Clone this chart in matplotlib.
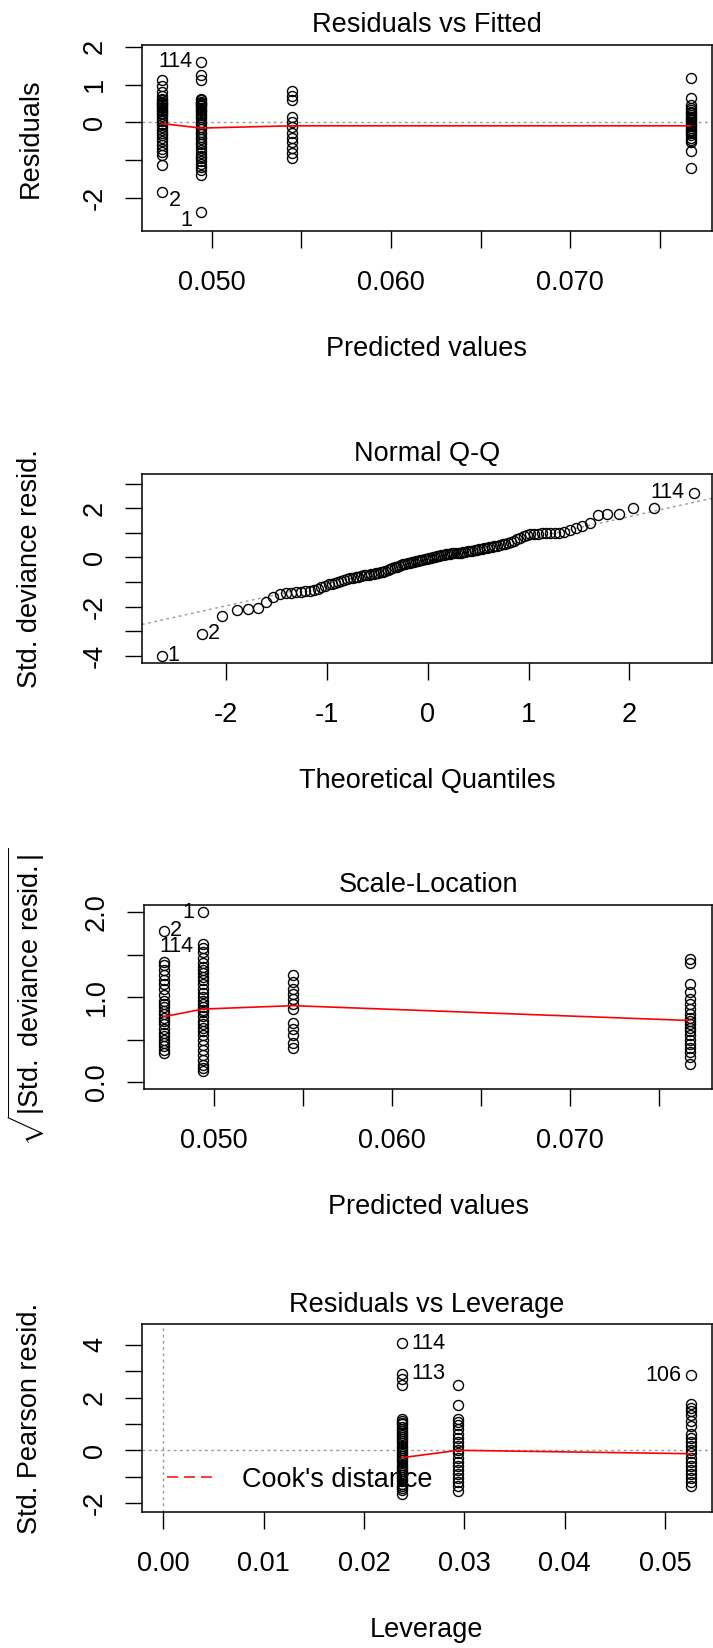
#!/usr/bin/python
# -*- coding: utf-8 -*-

"""Four diagnostic panels of a fitted model, stacked one under another."""

import matplotlib
matplotlib.use('Agg')
import matplotlib.pyplot as plt
import numpy as np
from statistics import NormalDist

plt.rcParams['font.family'] = ['Liberation Sans', 'DejaVu Sans']
plt.rcParams['mathtext.fontset'] = 'custom'
plt.rcParams['mathtext.rm'] = 'Liberation Sans'
plt.rcParams['mathtext.it'] = 'Liberation Sans:italic'

######################################################################
# data

# predicted values of the four groups (panels 1 and 3)
fit_groups = [0.0472, 0.0494, 0.05446, 0.07672]

# residuals vs fitted
res_1 = [1.11, 0.95, 0.80, 0.71, 0.62, 0.58, 0.55, 0.52, 0.48, 0.45, 0.41, 0.37,
         0.33, 0.29, 0.25, 0.21, 0.18, 0.10, 0.03, -0.05, -0.12, -0.20, -0.27,
         -0.33, -0.42, -0.50, -0.60, -0.70, -0.78, -0.87, -1.13, -1.84]
res_2 = [1.60, 1.26, 1.13, 0.62, 0.58, 0.55, 0.52, 0.49, 0.45, 0.42, 0.38, 0.34,
         0.30, 0.25, 0.20, 0.14, 0.08, 0.02, -0.05, -0.12, -0.18, -0.25, -0.32,
         -0.38, -0.45, -0.52, -0.58, -0.65, -0.72, -0.80, -0.88, -0.95, -1.02,
         -1.10, -1.18, -1.26, -1.38, -2.37]
res_3 = [0.84, 0.71, 0.58, 0.13, 0.00, -0.13, -0.27, -0.40, -0.53, -0.67, -0.80, -0.93]
res_4 = [1.17, 0.64, 0.45, 0.38, 0.33, 0.28, 0.24, 0.19, 0.14, 0.10, 0.05, 0.01,
         -0.04, -0.09, -0.14, -0.19, -0.24, -0.29, -0.34, -0.40, -0.46, -0.53,
         -0.76, -1.20]
smooth_1 = [-0.03, -0.15, -0.09, -0.09]

# normal Q-Q, sorted std. deviance residuals
qq_vals = [-4.00, -3.10, -2.36, -2.15, -2.10, -2.05, -1.80, -1.60, -1.50, -1.46,
           -1.44, -1.42, -1.40, -1.38, -1.36, -1.32, -1.28, -1.22, -1.16, -1.10,
           -1.06, -1.02, -0.98, -0.95, -0.92, -0.88, -0.85, -0.82, -0.80, -0.78,
           -0.76, -0.73, -0.71, -0.70, -0.68, -0.66, -0.64, -0.62, -0.60, -0.58,
           -0.55, -0.50, -0.46, -0.43, -0.40, -0.37, -0.34, -0.31, -0.28, -0.26,
           -0.24, -0.22, -0.20, -0.18, -0.16, -0.14, -0.12, -0.10, -0.08, -0.06,
           -0.04, -0.02, 0.00, 0.02, 0.04, 0.06, 0.08, 0.10, 0.12, 0.14,
           0.15, 0.16, 0.17, 0.18, 0.19, 0.20, 0.22, 0.24, 0.26, 0.27,
           0.28, 0.30, 0.31, 0.33, 0.35, 0.37, 0.39, 0.41, 0.43, 0.45,
           0.48, 0.50, 0.53, 0.56, 0.58, 0.62, 0.68, 0.74, 0.80, 0.86,
           0.91, 0.94, 0.96, 0.97, 0.98, 0.98, 0.99, 0.99, 1.00, 1.05,
           1.12, 1.20, 1.28, 1.38, 1.74, 1.76, 1.78, 1.99, 2.00, 2.62]

# scale-location, sqrt(|std. deviance resid.|)
sl_1 = [1.78, 1.42, 1.38, 1.32, 1.26, 1.20, 1.15, 1.10, 1.02, 0.96, 0.92, 0.88,
        0.84, 0.80, 0.76, 0.72, 0.68, 0.62, 0.58, 0.54, 0.50, 0.46, 0.42, 0.38, 0.34]
sl_2 = [2.00, 1.63, 1.58, 1.53, 1.46, 1.40, 1.36, 1.32, 1.28, 1.24, 1.20, 1.15,
        1.10, 1.05, 1.00, 0.95, 0.92, 0.88, 0.85, 0.82, 0.78, 0.72, 0.68, 0.64,
        0.60, 0.56, 0.50, 0.44, 0.38, 0.32, 0.26, 0.20, 0.16, 0.13]
sl_3 = [1.26, 1.18, 1.10, 1.04, 0.98, 0.92, 0.86, 0.70, 0.62, 0.55, 0.46, 0.40]
sl_4 = [1.45, 1.40, 1.16, 1.06, 0.98, 0.92, 0.86, 0.80, 0.76, 0.72, 0.68, 0.64,
        0.60, 0.55, 0.50, 0.45, 0.40, 0.35, 0.29, 0.215]
smooth_3 = [0.77, 0.86, 0.90, 0.725]

# residuals vs leverage
lev_groups = [0.0238, 0.0294, 0.0526]
pr_1 = [4.06, 2.90, 2.71, 2.46, 1.19, 1.12, 1.05, 0.98, 0.90, 0.82, 0.74, 0.66,
        0.58, 0.50, 0.42, 0.34, 0.26, 0.18, 0.10, 0.02, -0.06, -0.14, -0.22,
        -0.30, -0.38, -0.46, -0.54, -0.62, -0.70, -0.78, -0.86, -0.94, -1.02,
        -1.10, -1.18, -1.26, -1.34, -1.42, -1.50, -1.66]
pr_2 = [2.48, 1.70, 1.19, 1.08, 0.95, 0.80, 0.62, 0.46, 0.30, 0.15, 0.02, -0.12,
        -0.28, -0.44, -0.60, -0.75, -0.90, -1.05, -1.20, -1.35, -1.55]
pr_3 = [2.84, 1.76, 1.62, 1.48, 1.34, 1.12, 0.92, 0.62, 0.46, 0.30, 0.16, 0.02,
        -0.12, -0.28, -0.44, -0.60, -0.75, -0.90, -1.05, -1.20, -1.35]
smooth_4 = [-0.28, 0.0, -0.13]

######################################################################

W, H = 713, 1648
FS = 19.5
ID_FS = 15.5
fig = plt.figure(figsize=(W / 100, H / 100), dpi=100)

point_kw = dict(ls='none', marker='o', mfc='none', mec='black', ms=7.2, mew=1.0, zorder=2)
red_kw = dict(color='red', lw=1.2, zorder=3)
ref_kw = dict(color='#9a9a9a', lw=1.0, ls=(0, (2, 2.5)), zorder=1)


def make_axes(left, top, right, bottom):
    return fig.add_axes([left / W, 1 - bottom / H, (right - left) / W, (bottom - top) / H])


def style_axes(ax):
    for s in ax.spines.values():
        s.set_linewidth(1.1)
    ax.tick_params(axis='both', length=12.2, width=1.0, labelsize=FS)
    ax.tick_params(axis='x', pad=16)
    ax.tick_params(axis='y', pad=12.3, labelrotation=90)
    for lbl in ax.get_yticklabels():
        lbl.set_va('center')


def put_texts(box, title, xlabel, ylabel, ylabel_math=False):
    left, top, right, bottom = box
    cx = (left + right) / 2
    cy = (top + bottom) / 2
    fig.text(cx / W, 1 - (top - 12.5) / H, title, ha='center', va='baseline', fontsize=FS)
    fig.text(cx / W, 1 - (bottom + 125) / H, xlabel, ha='center', va='baseline', fontsize=FS)
    if ylabel_math:
        fig.text(26 / W, 1 - cy / H, ylabel, ha='center', va='center', rotation=90, fontsize=FS)
    else:
        fig.text(37.5 / W, 1 - cy / H, ylabel, ha='center', va='baseline', rotation=90,
                 rotation_mode='anchor', fontsize=FS)


def id_label(ax, x, y, text, dx, dy, ha):
    ax.annotate(text, (x, y), xytext=(dx, dy), textcoords='offset pixels',
                ha=ha, va='center', fontsize=ID_FS, annotation_clip=False)


fit_ticks = [0.050, 0.055, 0.060, 0.065, 0.070, 0.075]
fit_labels = ['0.050', '', '0.060', '', '0.070', '']

# ---- panel 1: Residuals vs Fitted
box1 = (142, 45, 712, 231)
ax1 = make_axes(*box1)
ax1.axhline(0, **ref_kw)
for x, vals in zip(fit_groups, [res_1, res_2, res_3, res_4]):
    ax1.plot([x] * len(vals), vals, **point_kw)
ax1.plot(fit_groups, smooth_1, **red_kw)
ax1.set_xlim(0.046105, 0.077913)
ax1.set_ylim(-2.87, 2.045)
ax1.set_xticks(fit_ticks, fit_labels)
ax1.set_yticks([-2, -1, 0, 1, 2], ['-2', '', '0', '1', '2'])
style_axes(ax1)
id_label(ax1, fit_groups[1], res_2[0], '114', -9, 0, 'right')
id_label(ax1, fit_groups[0], res_1[-1], '2', 7, -8, 'left')
id_label(ax1, fit_groups[1], res_2[-1], '1', -9, -8, 'right')
put_texts(box1, 'Residuals vs Fitted', 'Predicted values', 'Residuals')

# ---- panel 2: Normal Q-Q
box2 = (142, 474, 712, 663)
ax2 = make_axes(*box2)
n = len(qq_vals)
nd = NormalDist()
theo = [nd.inv_cdf((i + 0.5) / n) for i in range(n)]
yq = np.quantile(qq_vals, [0.25, 0.75])
xq = [nd.inv_cdf(0.25), nd.inv_cdf(0.75)]
slope = (yq[1] - yq[0]) / (xq[1] - xq[0])
icpt = yq[0] - slope * xq[0]
ax2.axline((0, icpt), slope=slope, **ref_kw)
ax2.plot(theo, qq_vals, **point_kw)
ax2.set_xlim(-2.835, 2.82)
ax2.set_ylim(-4.29, 3.39)
ax2.set_xticks([-2, -1, 0, 1, 2], ['-2', '-1', '0', '1', '2'])
ax2.set_yticks(range(-4, 4), ['-4', '', '-2', '', '0', '', '2', ''])
style_axes(ax2)
id_label(ax2, theo[0], qq_vals[0], '1', 6, 0, 'left')
id_label(ax2, theo[1], qq_vals[1], '2', 6, 0, 'left')
id_label(ax2, theo[-1], qq_vals[-1], '114', -9, 0, 'right')
put_texts(box2, 'Normal Q-Q', 'Theoretical Quantiles', 'Std. deviance resid.')

# ---- panel 3: Scale-Location
box3 = (144, 905, 712, 1089)
ax3 = make_axes(*box3)
for x, vals in zip(fit_groups, [sl_1, sl_2, sl_3, sl_4]):
    ax3.plot([x] * len(vals), vals, **point_kw)
ax3.plot(fit_groups, smooth_3, **red_kw)
ax3.set_xlim(0.046094, 0.077968)
ax3.set_ylim(-0.082, 2.086)
ax3.set_xticks(fit_ticks, fit_labels)
ax3.set_yticks([0, 0.5, 1.0, 1.5, 2.0], ['0.0', '', '1.0', '', '2.0'])
style_axes(ax3)
id_label(ax3, fit_groups[1], sl_2[0], '1', -9, 0, 'right')
id_label(ax3, fit_groups[0], sl_1[0], '2', 6, 0, 'left')
id_label(ax3, fit_groups[1], sl_2[1], '114', -9, -3, 'right')
put_texts(box3, 'Scale-Location', 'Predicted values',
          r'$\sqrt{|\mathrm{Std.\ deviance\ resid.}|}$', ylabel_math=True)

# ---- panel 4: Residuals vs Leverage
box4 = (142, 1324, 712, 1512)
ax4 = make_axes(*box4)
ax4.axhline(0, **ref_kw)
ax4.axvline(0, **ref_kw)
for x, vals in zip(lev_groups, [pr_1, pr_2, pr_3]):
    ax4.plot([x] * len(vals), vals, **point_kw)
ax4.plot(lev_groups, smooth_4, **red_kw)
ax4.set_xlim(-0.00212, 0.0547)
ax4.set_ylim(-2.34, 4.79)
ax4.set_xticks([0.0, 0.01, 0.02, 0.03, 0.04, 0.05],
               ['0.00', '0.01', '0.02', '0.03', '0.04', '0.05'])
ax4.set_yticks(range(-2, 5), ['-2', '', '0', '', '2', '', '4'])
style_axes(ax4)
id_label(ax4, lev_groups[0], pr_1[0], '114', 9, 0, 'left')
id_label(ax4, lev_groups[0], pr_1[1], '113', 9, 0, 'left')
id_label(ax4, lev_groups[2], pr_3[0], '106', -10, 0, 'right')
cook, = ax4.plot([], [], color='red', lw=1.1, ls=(0, (7.2, 3.9)))
ax4.legend([cook], ["Cook's distance"], loc='center left', bbox_to_anchor=(0.044, 0.172),
           frameon=False, fontsize=FS, handlelength=1.85, handletextpad=0.92,
           borderpad=0, borderaxespad=0)
put_texts(box4, 'Residuals vs Leverage', 'Leverage', 'Std. Pearson resid.')

plt.savefig('out.png', dpi=100)
